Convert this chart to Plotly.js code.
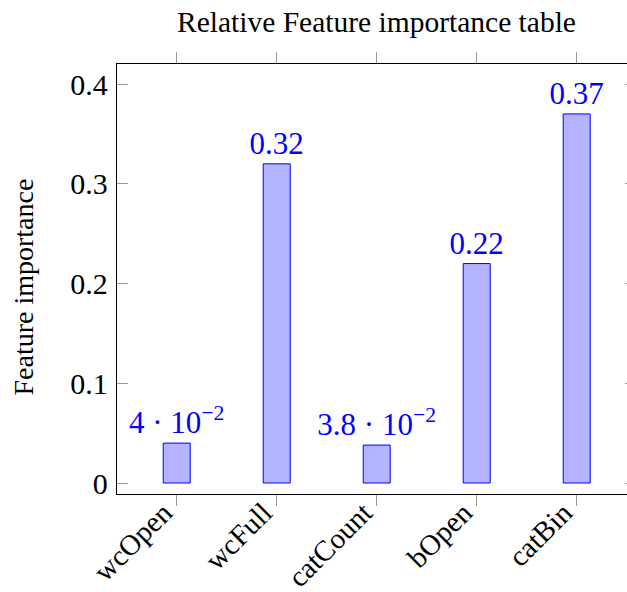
<!DOCTYPE html>
<html>
<head>
<meta charset="utf-8">
<script src="https://cdn.plot.ly/plotly-3.0.1.min.js"></script>
<style>html,body{margin:0;padding:0;overflow:hidden;background:#fff;}</style>
</head>
<body>
<div id="chart"></div>
<script>
const categories = ["wcOpen", "wcFull", "catCount", "bOpen", "catBin"];
const importance = [0.04, 0.32, 0.038, 0.22, 0.37];
const yTickVals = [0, 0.1, 0.2, 0.3, 0.4];
const yTickText = ["0", "0.1", "0.2", "0.3", "0.4"];

function fmt(v) {
  if (v >= 0.1) return String(v);
  const e = Math.floor(Math.log10(v));
  const m = +(v / Math.pow(10, e)).toFixed(2);
  return m + " · 10<sup>\u2212" + (-e) + "</sup>";
}
const labels = importance.map(fmt);

const font = "'Liberation Serif', serif";

Plotly.newPlot("chart", [{
  type: "bar",
  x: categories.map((c, i) => i),
  y: importance,
  width: 0.27,
  marker: {color: "rgb(179,179,255)", line: {color: "#0000ff", width: 1}},
  text: labels,
  textposition: "outside",
  constraintext: "none",
  cliponaxis: false,
  textfont: {color: "#0000ff", size: 31, family: font},
  outsidetextfont: {color: "#0000ff", size: 31, family: font},
  hoverinfo: "none"
}], {
  width: 636, height: 592,
  margin: {l: 117, r: 0, t: 64, b: 98},
  paper_bgcolor: "#fff", plot_bgcolor: "#fff",
  showlegend: false,
  title: {text: "Relative Feature importance table", font: {size: 29.5, family: font, color: "#000"}, x: 0.5, xanchor: "center", y: 0.9806, yanchor: "top", xref: "paper"},
  font: {family: font, color: "#000"},
  xaxis: {
    range: [-0.597, 4.593],
    tickvals: categories.map((c, i) => i),
    ticktext: categories,
    tickangle: -45,
    ticks: "outside", ticklen: 11, tickcolor: "#999", tickwidth: 1,
    ticklabelstandoff: -22,
    ticklabelshift: -13,
    showline: true, linecolor: "#000", linewidth: 1.2, mirror: "ticks",
    showgrid: false, zeroline: false,
    tickfont: {size: 29, family: font, color: "#000"}
  },
  yaxis: {
    range: [-0.01103, 0.42005],
    tickvals: yTickVals,
    ticktext: yTickText,
    ticks: "inside", ticklen: 11, tickcolor: "#999", tickwidth: 1,
    ticklabelstandoff: 2,
    showline: true, linecolor: "#000", linewidth: 1.2, mirror: "ticks",
    showgrid: false, zeroline: false,
    tickfont: {size: 30, family: font, color: "#000"}
  },
  annotations: [{
    text: "Feature importance", textangle: -90,
    xref: "paper", yref: "paper", x: 0, y: (494 - 287.5) / 430,
    xanchor: "center", yanchor: "middle", xshift: -94, showarrow: false,
    font: {size: 28, family: font, color: "#000"}
  }]
}, {displayModeBar: false, staticPlot: true});
</script>
</body>
</html>
